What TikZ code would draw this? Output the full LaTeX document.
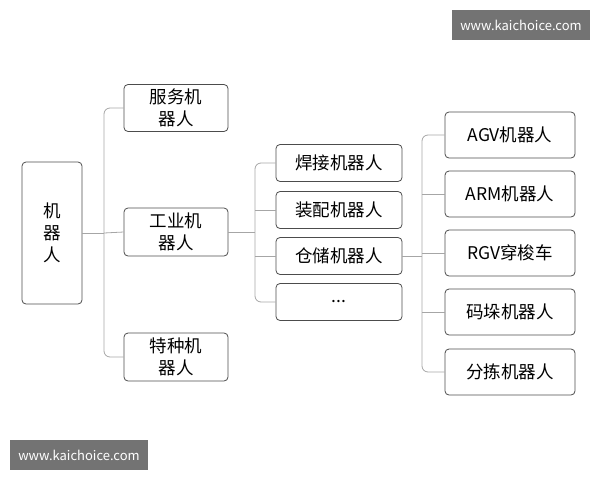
\documentclass[tikz,border=0pt]{standalone}
\usepackage{fontspec}
\setmainfont{Noto Sans CJK SC}
\usetikzlibrary{positioning}

\begin{document}
\begin{tikzpicture} [
x=1pt, y=-1pt,
box/.style={rectangle, draw=black!70, rounded corners=4pt, thick, font=\fontsize{17.5}{22}\selectfont, align=center, inner sep=0pt},
link/.style={draw=black!35, thick, rounded corners=6pt},
sitetag/.style={rectangle, fill=black!55, text=white, font=\fontsize{13}{15}\selectfont, minimum width=138pt, minimum height=30pt},
]
\useasboundingbox (0,0) rectangle (600,480);
%Nodes
\node[box, minimum width=60pt, minimum height=142pt, text width=20pt] (robot) at (52,233) {机\\器\\人};
\node[box, minimum width=104pt, minimum height=47pt] (service)  at (176,108) {服务机\\器人};
\node[box, minimum width=104pt, minimum height=48pt] (industry) at (176,232) {工业机\\器人};
\node[box, minimum width=104pt, minimum height=48pt] (special)  at (176,357) {特种机\\器人};

\node[box, minimum width=126pt, minimum height=37pt] (weld)     at (339,163) {焊接机器人};
\node[box, minimum width=126pt, minimum height=37pt] (assembly) at (339,210) {装配机器人};
\node[box, minimum width=126pt, minimum height=37pt] (storage)  at (339,256) {仓储机器人};
\node[box, minimum width=126pt, minimum height=37pt] (more)     at (339,302) {...};

\node[box, minimum width=130pt, minimum height=46pt] (agv)    at (510,135) {AGV机器人};
\node[box, minimum width=130pt, minimum height=46pt] (arm)    at (510,194) {ARM机器人};
\node[box, minimum width=130pt, minimum height=46pt] (rgv)    at (510,253) {RGV穿梭车};
\node[box, minimum width=130pt, minimum height=46pt] (stack)  at (510,312) {码垛机器人};
\node[box, minimum width=130pt, minimum height=46pt] (sort)   at (510,372) {分拣机器人};

\node[sitetag] (tagtop) at (521,25)  {www.kaichoice.com};
\node[sitetag] (tagbot) at (79,455)  {www.kaichoice.com};

%Lines
\draw[link] (robot.east) -- (104,233);
\draw[link] (service.west) -| (104,233) |- (special.west);
\draw[link] (104,233) -- (industry.west);

\draw[link] (industry.east) -- (255,232);
\draw[link] (weld.west) -| (255,232) |- (more.west);
\draw[link] (255,210) -- (assembly.west);
\draw[link] (255,256) -- (storage.west);

\draw[link] (storage.east) -- (422,256);
\draw[link] (agv.west) -| (422,256) |- (sort.west);
\draw[link] (422,194) -- (arm.west);
\draw[link] (422,253) -- (rgv.west);
\draw[link] (422,312) -- (stack.west);

\end{tikzpicture}
\end{document}
